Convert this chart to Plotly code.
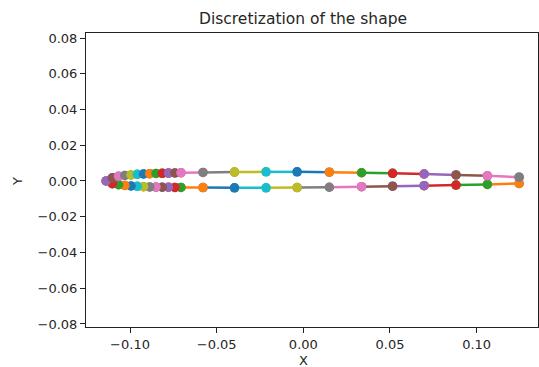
import plotly.graph_objects as go

# Airfoil outline: lower surface from trailing edge to nose, nose point,
# upper surface from nose back to trailing edge.
x_lower = [0.1245, 0.1062, 0.0881, 0.0697, 0.0515, 0.0336, 0.0150, -0.0036,
           -0.0215, -0.0397, -0.0579, -0.0706, -0.0741, -0.0778, -0.0814,
           -0.0850, -0.0886, -0.0922, -0.0958, -0.0994, -0.1030, -0.1066, -0.1102]
y_lower = [-0.0014, -0.0019, -0.0023, -0.0026, -0.0029, -0.0032, -0.0035, -0.0037,
           -0.0038, -0.0038, -0.0037, -0.0036, -0.0036, -0.0035, -0.0035,
           -0.0034, -0.0033, -0.0032, -0.0030, -0.0028, -0.0025, -0.0021, -0.0015]
x_nose = [-0.1138]
y_nose = [0.0000]
x_upper = [-0.1102, -0.1066, -0.1030, -0.0994, -0.0958, -0.0922, -0.0886, -0.0850,
           -0.0814, -0.0778, -0.0741, -0.0706, -0.0579, -0.0397, -0.0215, -0.0036,
           0.0150, 0.0336, 0.0515, 0.0697, 0.0881, 0.1062, 0.1245]
y_upper = [0.0018, 0.0026, 0.0031, 0.0034, 0.0037, 0.0039, 0.0041, 0.0042,
           0.0043, 0.0044, 0.0045, 0.0046, 0.0048, 0.0050, 0.0051, 0.0051,
           0.0049, 0.0046, 0.0043, 0.0039, 0.0034, 0.0029, 0.0021]

x_ticks = [-0.10, -0.05, 0.00, 0.05, 0.10]
y_ticks = [-0.08, -0.06, -0.04, -0.02, 0.00, 0.02, 0.04, 0.06, 0.08]

palette = ['#1f77b4', '#ff7f0e', '#2ca02c', '#d62728', '#9467bd',
           '#8c564b', '#e377c2', '#7f7f7f', '#bcbd22', '#17becf']

# Closed loop starting at the upper trailing-edge point
xs = [x_upper[-1]] + x_lower + x_nose + x_upper
ys = [y_upper[-1]] + y_lower + y_nose + y_upper

fig = go.Figure()
for i in range(len(xs)):
    c = palette[i % len(palette)]
    fig.add_trace(go.Scatter(
        x=xs[i:i + 2], y=ys[i:i + 2],
        mode='lines+markers',
        line=dict(color=c, width=2.5),
        marker=dict(color=c, size=9.5),
        showlegend=False, hoverinfo='skip',
    ))

W, H = 539, 367
L, R, T, B = 86, 1, 33, 40
pw, ph = W - L - R, H - T - B

font_col = '#262626'
axis_common = dict(
    showgrid=False, zeroline=False, showline=True, mirror=True,
    linecolor='#222222', linewidth=1,
    ticks='outside', ticklen=5, tickwidth=1, tickcolor='#222222',
    tickfont=dict(family='DejaVu Sans', size=13, color=font_col),
)

fig.update_layout(
    width=W, height=H,
    margin=dict(l=L, r=R, t=T, b=B),
    paper_bgcolor='white', plot_bgcolor='white',
    xaxis=dict(range=[-0.1254, 0.1354], tickvals=x_ticks,
               ticktext=[f'{v:.2f}'.replace('-', '\u2212') for v in x_ticks],
               **axis_common),
    yaxis=dict(range=[-0.0817, 0.0828], tickvals=y_ticks,
               ticktext=[f'{v:.2f}'.replace('-', '\u2212') for v in y_ticks],
               **axis_common),
    annotations=[
        dict(text='Discretization of the shape', xref='paper', yref='paper',
             x=(303 - L) / pw, y=(H - B - 19) / ph, showarrow=False,
             xanchor='center', yanchor='middle',
             font=dict(family='DejaVu Sans', size=15.5, color=font_col)),
        dict(text='X', xref='paper', yref='paper',
             x=(303 - L) / pw, y=(H - B - 360) / ph, showarrow=False,
             xanchor='center', yanchor='middle',
             font=dict(family='DejaVu Sans', size=13, color=font_col)),
        dict(text='Y', xref='paper', yref='paper',
             x=(17 - L) / pw, y=(H - B - 182) / ph, showarrow=False,
             xanchor='center', yanchor='middle', textangle=-90,
             font=dict(family='DejaVu Sans', size=13, color=font_col)),
    ],
)

fig.write_html('out.html')
